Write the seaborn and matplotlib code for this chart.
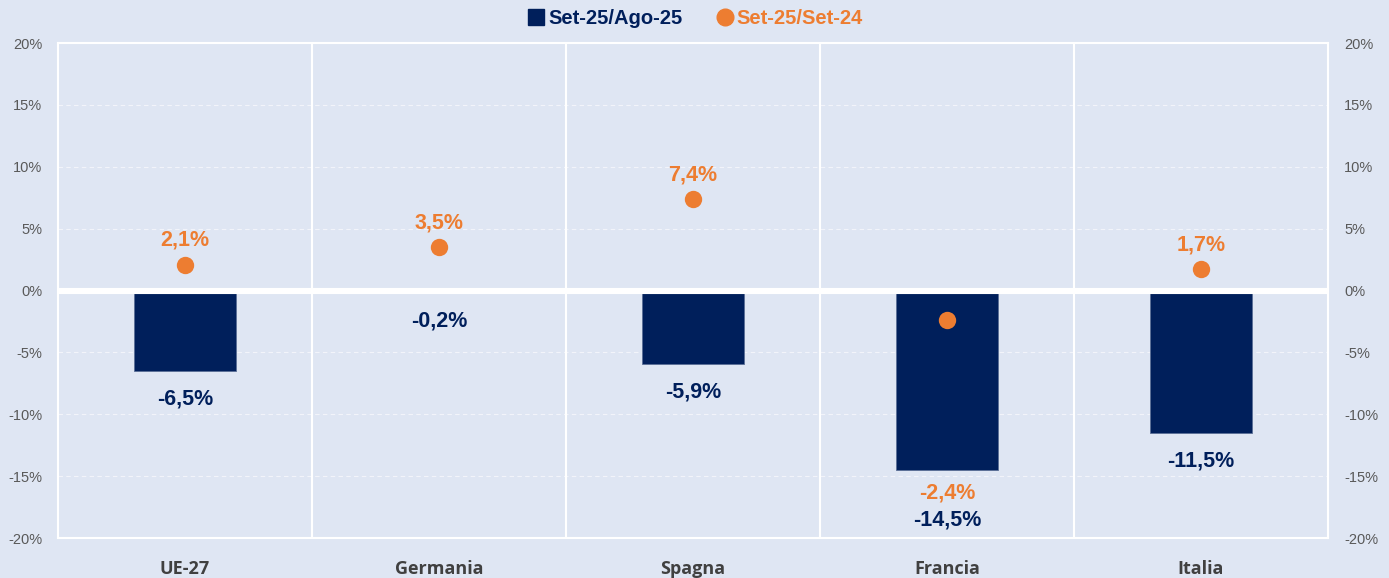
import matplotlib.pyplot as plt
import seaborn as sns
import pandas as pd
from matplotlib.ticker import MultipleLocator, FuncFormatter
from matplotlib.lines import Line2D

paesi = ['UE-27', 'Germania', 'Spagna', 'Francia', 'Italia']
mese_su_mese = [-6.5, -0.2, -5.9, -14.5, -11.5]   # Set-25/Ago-25
anno_su_anno = [2.1, 3.5, 7.4, -2.4, 1.7]         # Set-25/Set-24

navy = '#001F5B'
orange = '#ED7D31'
bg = '#DFE6F3'

df = pd.DataFrame({'paese': paesi, 'mm': mese_su_mese, 'aa': anno_su_anno})

sns.set_style('white')
plt.rcParams['font.family'] = ['Liberation Sans', 'DejaVu Sans']

fig = plt.figure(figsize=(13.89, 5.78), dpi=100, facecolor=bg)
ax = fig.add_axes([0.0418, 0.0692, 0.9143, 0.8564])
ax.set_facecolor(bg)

sns.barplot(data=df, x='paese', y='mm', color=navy, width=0.4, saturation=1,
            edgecolor='#5A6E96', linewidth=0.6, ax=ax, zorder=2)
sns.stripplot(data=df, x='paese', y='aa', color=orange, jitter=False, size=12.5,
              linewidth=0, ax=ax, zorder=4)

ax.set_ylim(-20, 20)
ax.set_xlim(-0.5, len(paesi) - 0.5)
ax.yaxis.set_major_locator(MultipleLocator(5))
ax.yaxis.set_major_formatter(FuncFormatter(lambda v, p: f'{v:.0f}%'))

# griglia
for v in range(-15, 20, 5):
    if v != 0:
        ax.axhline(v, color='white', lw=0.8, ls=(0, (4, 3)), alpha=0.6, zorder=1)
ax.axhline(0, color='white', lw=4.4, zorder=3)
for i in range(1, len(paesi)):
    ax.axvline(i - 0.5, color='white', lw=1.5, zorder=1)
for s in ax.spines.values():
    s.set_color('white')
    s.set_linewidth(1.5)

ax.tick_params(axis='y', labelright=True, left=False, right=False,
               labelsize=10.5, labelcolor='#595959', pad=8)
ax.tick_params(axis='x', bottom=False, pad=12)
ax.set_xticks(range(len(paesi)))
ax.set_xticklabels(paesi, fontsize=13, fontweight='bold', color='#404040',
                   family=['Open Sans', 'DejaVu Sans'])
ax.set_xlabel('')
ax.set_ylabel('')

def fmt(v):
    return f'{v:.1f}%'.replace('.', ',')

for i, (b, p) in enumerate(zip(mese_su_mese, anno_su_anno)):
    if p >= 0:
        ax.text(i, p + 1.95, fmt(p), ha='center', va='center', fontsize=15.5,
                fontweight='bold', color=orange, zorder=5)
        ax.text(i, b - 2.3, fmt(b), ha='center', va='center', fontsize=15.5,
                fontweight='bold', color=navy, zorder=5)
    else:
        ax.text(i, b - 1.85, fmt(p), ha='center', va='center', fontsize=15.5,
                fontweight='bold', color=orange, zorder=5)
        ax.text(i, b - 4.05, fmt(b), ha='center', va='center', fontsize=15.5,
                fontweight='bold', color=navy, zorder=5)

handles = [Line2D([], [], marker='s', ls='', color=navy, markersize=11),
           Line2D([], [], marker='o', ls='', color=orange, markersize=12)]
leg = fig.legend(handles, ['Set-25/Ago-25', 'Set-25/Set-24'], loc='center',
                 bbox_to_anchor=(0.5, 0.968), ncol=2, frameon=False,
                 handletextpad=0.1, columnspacing=1.6, handlelength=1.0,
                 prop={'size': 14.5, 'weight': 'bold'})
for t, c in zip(leg.get_texts(), [navy, orange]):
    t.set_color(c)

fig.savefig('out.png', dpi=100, facecolor=bg)
